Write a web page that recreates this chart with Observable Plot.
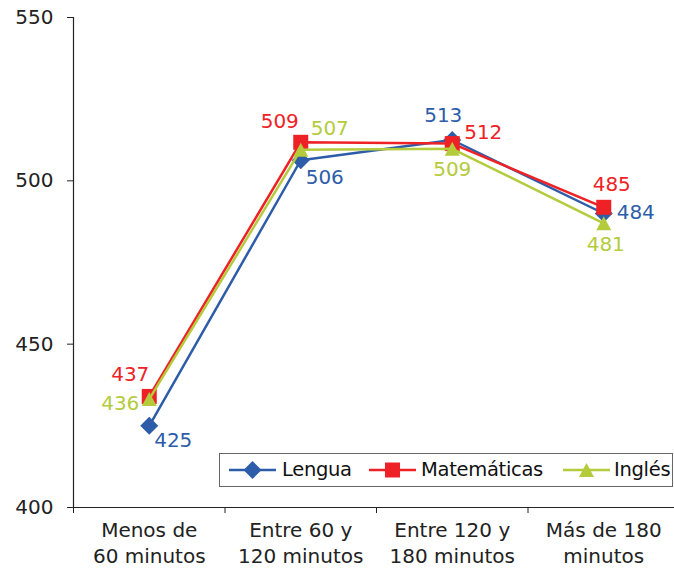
<!DOCTYPE html>
<html><head><meta charset="utf-8">
<script src="https://cdn.jsdelivr.net/npm/d3@7"></script>
<script src="https://cdn.jsdelivr.net/npm/@observablehq/plot@0.6"></script>
<style>
body{margin:0;background:#fff}
#wrap{position:relative;width:674px;height:569px;font-family:"DejaVu Sans",sans-serif;overflow:hidden}
#legend{position:absolute;left:219px;top:453px;width:452px;height:32px;border:1.5px solid #666;background:#fff;font-size:19.5px;letter-spacing:-0.3px;color:#111}
#legend .it{position:absolute;top:0;height:32px;line-height:32px;white-space:nowrap}
#legend svg{position:absolute;top:0}
</style>
</head><body><div id="wrap"></div>
<script>
// categories (x) and series
const categories = ["Menos de\n60 minutos", "Entre 60 y\n120 minutos", "Entre 120 y\n180 minutos", "Más de 180\nminutos"];
const seriesNames = ["Lengua", "Matemáticas", "Inglés"];
// plotted values (as drawn)
const lengua = [425, 506.3, 512.5, 490];
const matematicas = [434, 511.8, 511.4, 491.9];
const ingles = [433.2, 509.5, 509.8, 487];
// printed data labels
const lenguaLabels = [425, 506, 513, 484];
const matematicasLabels = [437, 509, 512, 485];
const inglesLabels = [436, 507, 509, 481];
const yTicks = [400, 450, 500, 550];

// styles
const colors = {"Lengua": "#2D5DA9", "Matemáticas": "#EE2226", "Inglés": "#B4CB3C"};
const labelOffsets = {
  "Lengua": [[24, 15], [24, 17], [-9, -24], [32, -1]],
  "Matemáticas": [[-19, -22], [-21, -21], [31, -11], [8, -23]],
  "Inglés": [[-29, 5], [29, -21], [0, 21], [2, 21]]
};
const symbols = {
  "Lengua": {draw(c){const h=9;c.moveTo(0,-h);c.lineTo(h,0);c.lineTo(0,h);c.lineTo(-h,0);c.closePath();}},
  "Matemáticas": {draw(c){const s=7.5;c.moveTo(-s,-s);c.lineTo(s,-s);c.lineTo(s,s);c.lineTo(-s,s);c.closePath();}},
  "Inglés": {draw(c){c.moveTo(0,-7);c.lineTo(7.5,7);c.lineTo(-7.5,7);c.closePath();}}
};

const valuesBySeries = [lengua, matematicas, ingles];
const labelsBySeries = [lenguaLabels, matematicasLabels, inglesLabels];

const marks = [
  Plot.ruleY([400], {stroke: "#222", strokeWidth: 1.2}),
  Plot.ruleX([0], {y1: 400, y2: 550, stroke: "#222", strokeWidth: 1.2}),
  Plot.axisY({ticks: yTicks, tickSize: 6, tickPadding: 14, stroke: "#222", fill: "#222", label: null}),
  Plot.axisX({ticks: [0, 1, 2, 3, 4], tickSize: 6, tickFormat: () => "", stroke: "#222", label: null}),
  Plot.axisX({ticks: [0.5, 1.5, 2.5, 3.5], tickSize: 0, tickPadding: 11, lineHeight: 1.3, label: null,
    tickFormat: d => categories[Math.floor(d)], fill: "#222"})
];

seriesNames.forEach((name, si) => {
  const rows = valuesBySeries[si].map((v, i) => ({x: i + 0.5, y: v, label: String(labelsBySeries[si][i]), i}));
  marks.push(Plot.line(rows, {x: "x", y: "y", stroke: colors[name], strokeWidth: 2.5}));
  marks.push(Plot.dot(rows, {x: "x", y: "y", symbol: symbols[name], r: 5, fill: colors[name], stroke: "none"}));
});
seriesNames.forEach((name, si) => {
  valuesBySeries[si].forEach((v, i) => {
    const [dx, dy] = labelOffsets[name][i];
    marks.push(Plot.text([{x: i + 0.5, y: v, label: String(labelsBySeries[si][i])}],
      {x: "x", y: "y", text: "label", dx, dy, fill: colors[name], fontSize: 20, textAnchor: "middle", lineAnchor: "middle"}));
  });
});

const chart = Plot.plot({
  width: 674, height: 569,
  marginLeft: 73, marginRight: 0, marginTop: 17, marginBottom: 62,
  style: {fontFamily: "DejaVu Sans, sans-serif", fontSize: "20px", color: "#222", background: "#fff", overflow: "visible"},
  x: {type: "linear", domain: [0, 4], range: [73, 679]},
  y: {domain: [400, 550]},
  marks
});
const wrap = document.getElementById("wrap");
wrap.appendChild(chart);

// legend
const legend = document.createElement("div");
legend.id = "legend";
const legendPos = [[9, 62], [149, 201], [343, 394]];
seriesNames.forEach((name, si) => {
  const [lx, tx] = legendPos[si];
  const svg = d3.create("svg").attr("width", 48).attr("height", 32).style("left", lx + "px");
  svg.append("line").attr("x1", 0).attr("x2", 47).attr("y1", 16).attr("y2", 16).attr("stroke", colors[name]).attr("stroke-width", 2.5);
  const p = d3.path(); symbols[name].draw(p);
  svg.append("path").attr("d", p.toString()).attr("transform", "translate(23.5,16)").attr("fill", colors[name]);
  legend.appendChild(svg.node());
  const t = document.createElement("div");
  t.className = "it"; t.style.left = tx + "px"; t.textContent = name;
  legend.appendChild(t);
});
wrap.appendChild(legend);
</script>
</body></html>
